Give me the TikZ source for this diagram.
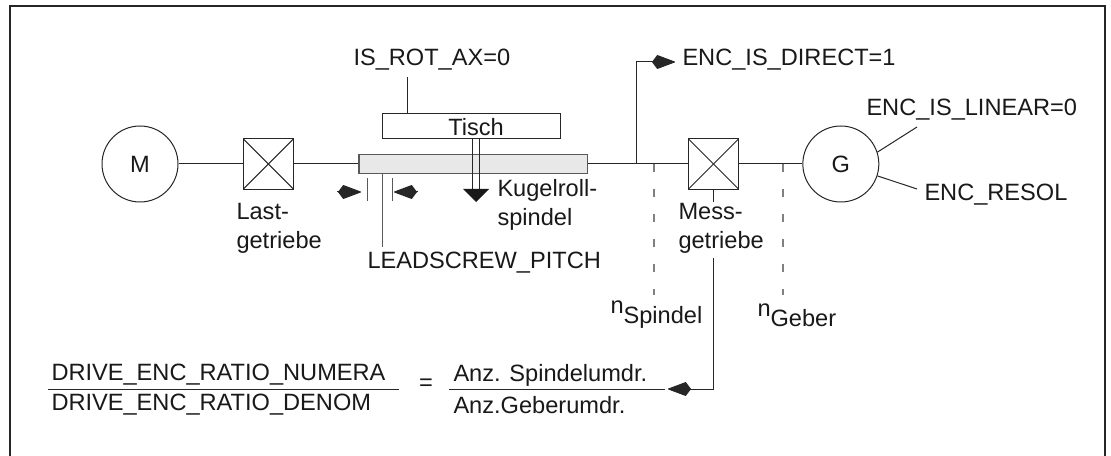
\documentclass[tikz,border=0pt]{standalone}
\usepackage{fontspec}
\setmainfont{Liberation Sans}
\usetikzlibrary{positioning, arrows.meta, calc}

\begin{document}
\begin{tikzpicture}[
    x=0.75pt, y=-0.75pt,
    line width=0.75pt, draw=black!85,
    every node/.style = {text=black!90, font=\fontsize{17.7}{21.75}\selectfont},
    unit/.style     = {circle, draw, minimum size=57pt, inner sep=0pt},
    gearbox/.style  = {rectangle, draw, minimum size=38pt, inner sep=0pt, path picture={
        \draw (path picture bounding box.north west) -- (path picture bounding box.south east);
        \draw (path picture bounding box.south west) -- (path picture bounding box.north east);}},
    param/.style    = {inner sep=0pt, anchor=west},
    note/.style     = {inner sep=0pt, anchor=north west, align=left},
    arrow/.style    = {-{Kite[length=18pt, width=10.5pt, inset=4pt, round]}},
    speed/.style    = {draw=black!50, line width=1.1pt, dash pattern=on 6pt off 12.75pt}
]
\path[use as bounding box, fill=white] (0,0) rectangle (1111,456);
\draw[line width=1.6pt] (10,456) -- (10,6) -- (1105,6) -- (1105,456);

% drive train
\node[unit] at (140,164)              (M)     {M};
\node[gearbox, right=48pt of M]       (lastgear) {};
\node[rectangle, draw=black!65, line width=1.1pt, fill=black!9, minimum width=171.5pt,
      minimum height=14.5pt, inner sep=0pt, right=48pt of lastgear] (spindle) {};
\node[gearbox] at (713.5,164)         (messgear) {};
\node[unit, right=47.25pt of messgear] (G)    {G};
\foreach \a/\b in {M/lastgear, lastgear/spindle, spindle/messgear, messgear/G}
  \draw (\a) -- (\b);

% table
\node[rectangle, draw, minimum width=133.5pt, minimum height=18.75pt, inner sep=0pt] at (471,126.5) (table) {};
\node[inner sep=0pt] at (476,127) (tisch) {Tisch};
\node[param] at (353,60) (rotax) {IS\_ROT\_AX=0};
\draw (407,77) coordinate (rotaxfoot) -- (rotaxfoot |- table.north);
\coordinate (feedtip) at (476,202);
\draw ($(table.south -| feedtip)+(-2.6pt,0)$) -- ++(0,-38pt);
\draw ($(table.south -| feedtip)+(2.6pt,0)$) -- ++(0,-38pt);
\fill[black!90] (463,189) -- (489,189) -- (feedtip) -- cycle;
\node[note] at (497,179) (kugel) {Kugelroll-\\spindel};

% pitch
\coordinate (pitchl) at (367.5,178);
\coordinate (pitchr) at (392,178);
\draw[black!65] (pitchl) -- ++(0,23);
\draw[black!65] (pitchr) -- ++(0,23);
\coordinate (pitchla) at (337,192);
\coordinate (pitchlb) at (361,192);
\coordinate (pitchra) at (418,192);
\coordinate (pitchrb) at (394,192);
\draw[arrow] (pitchla) -- (pitchlb);
\draw[arrow] (pitchra) -- (pitchrb);
\node[param] at (367,263) (pitch) {LEADSCREW\_PITCH};
\coordinate (pitchtop) at (382,247);
\draw[black!65] (pitchtop |- spindle.south) -- (pitchtop);

\node[note] at (236,203) (lastlabel) {Last-\\getriebe};

% encoder parameters
\coordinate (branch) at (636.5,164);
\node[param] at (682,60) (direct) {ENC\_IS\_DIRECT=1};
\coordinate (directtip) at (675,62);
\draw[arrow] (branch) |- (directtip);
\node[param] at (866,110) (linear) {ENC\_IS\_LINEAR=0};
\node[param] at (924,195) (resol)  {ENC\_RESOL};
\coordinate (linearfoot) at (917,127);
\coordinate (resolfoot) at (917,189);
\draw (G.18) -- (linearfoot);
\draw (G.-18) -- (resolfoot);

% speeds
\node[note] at (678,203) (messlabel) {Mess-\\getriebe};
\node[inner sep=0pt, anchor=west] at (610,315) (nspindel) {n\raisebox{-7.5pt}{Spindel}};
\node[inner sep=0pt, anchor=west] at (757,315) (ngeber)   {n\raisebox{-7.5pt}{Geber}};
\coordinate (spindelfoot) at (654,295);
\coordinate (geberfoot) at (783,295);
\draw[speed] (spindelfoot |- spindle) -- (spindelfoot);
\draw[speed] (geberfoot |- G) -- (geberfoot);

% ratio
\coordinate (ratiol) at (48,389);
\coordinate (ratiom) at (399,389);
\coordinate (ratior) at (449,389);
\coordinate (ratioe) at (665,389);
\coordinate (ratiotip) at (668,389);
\draw (ratiol) -- (ratiom);
\draw (ratior) -- (ratioe);
\node[param] at (51,375) (numera) {DRIVE\_ENC\_RATIO\_NUMERA};
\node[param] at (51,405) (denom)  {DRIVE\_ENC\_RATIO\_DENOM};
\node[inner sep=0pt] at (426,385) (equal) {=};
\node[param] at (453,375) (umdrs) {Anz. Spindelumdr.};
\node[param] at (453,405) (umdrg) {Anz.Geberumdr.};
\draw (messgear.south) -- (messgear.south |- 0,202);
\draw[arrow] (messgear.south |- 0,258) |- (ratiotip);
\end{tikzpicture}
\end{document}
